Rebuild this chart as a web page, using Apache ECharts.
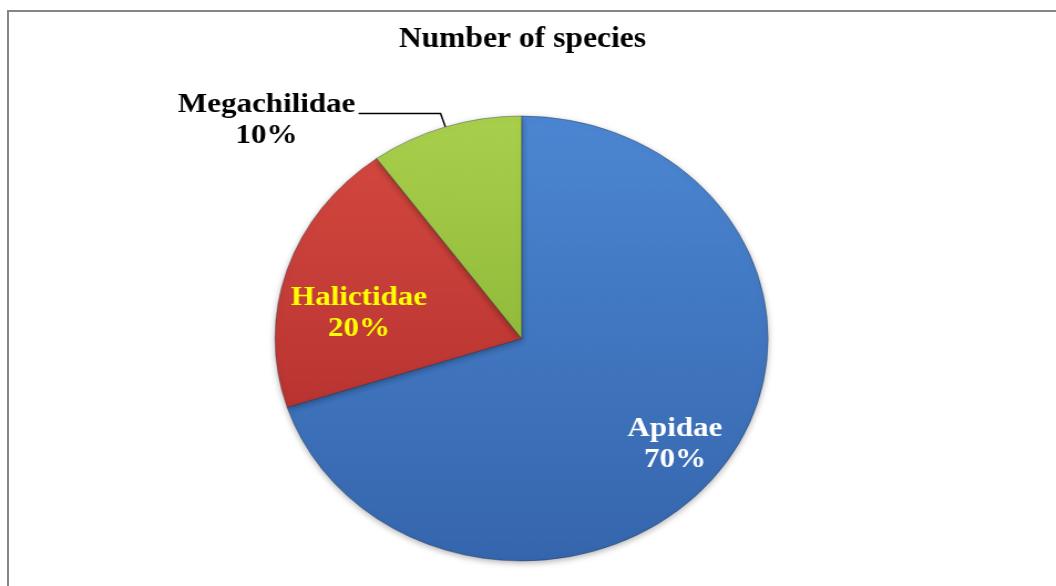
<!DOCTYPE html>
<html><head><meta charset="utf-8">
<script src="https://cdn.jsdelivr.net/npm/echarts@6/dist/echarts.min.js"></script>
<style>
html,body{margin:0;padding:0;background:#fff;overflow:hidden;width:1056px;height:586px;}
#frame{position:absolute;left:7px;top:10px;width:1100px;height:700px;border-top:2px solid #858585;border-left:2px solid #858585;}
#chart{position:absolute;left:0;top:0;width:943px;height:586px;transform:scaleX(1.108);transform-origin:0 0;}
</style></head><body>
<div id="frame"></div>
<div id="chart"></div>
<script>
const titleText = 'Number of species';
const categories = ['Apidae', 'Halictidae', 'Megachilidae'];
const percentages = [70, 20, 10];

const fillTop = ['#4c86d2', '#d2473f', '#a9d04c'];
const fillBottom = ['#3566ad', '#b93431', '#92bb3b'];
const labelColors = ['#ffffff', '#ffff00', '#000000'];
const labelPositions = ['inside', 'inside', 'outside'];
const insideShift = [[46, 39], [-38, 10], [0, 0]];

const chart = echarts.init(document.getElementById('chart'), null, { renderer: 'canvas' });

const data = categories.map((name, i) => ({
  name: name,
  value: percentages[i],
  itemStyle: {
    color: new echarts.graphic.LinearGradient(0, 0, 0, 1, [
      { offset: 0, color: fillTop[i] },
      { offset: 1, color: fillBottom[i] }
    ])
  },
  label: {
    position: labelPositions[i],
    color: labelColors[i],
    padding: labelPositions[i] === 'outside' ? [13, 0, 0, 0] : 0
  }
}));

chart.setOption({
  animation: false,
  backgroundColor: 'transparent',
  title: {
    text: titleText,
    left: 'center',
    top: 20,
    textStyle: {
      fontFamily: 'Liberation Serif',
      fontWeight: 'bold',
      fontSize: 28.5,
      color: '#000'
    }
  },
  series: [{
    type: 'pie',
    center: [470.7, 338.5],
    radius: 222.5,
    startAngle: 90,
    clockwise: true,
    avoidLabelOverlap: false,
    silent: true,
    itemStyle: {
      borderColor: 'rgba(20,30,50,0.35)',
      borderWidth: 1,
      shadowBlur: 6,
      shadowOffsetY: 2,
      shadowColor: 'rgba(0,0,0,0.3)'
    },
    label: {
      show: true,
      fontFamily: 'Liberation Serif',
      fontWeight: 'bold',
      fontSize: 28,
      lineHeight: 31,
      formatter: '{a|{b}}\n{a|{c}%}',
      rich: {
        a: {
          fontFamily: 'Liberation Serif',
          fontWeight: 'bold',
          fontSize: 28,
          lineHeight: 31,
          width: 162,
          align: 'center'
        }
      },
      distanceToLabelLine: 2
    },
    labelLine: {
      show: true,
      length: 14,
      length2: 74,
      smooth: false,
      lineStyle: { color: '#000', width: 1.5 }
    },
    labelLayout: function (p) {
      const s = insideShift[p.dataIndex];
      return { dx: s[0], dy: s[1] };
    },
    data: data
  }]
});
</script>
</body></html>
